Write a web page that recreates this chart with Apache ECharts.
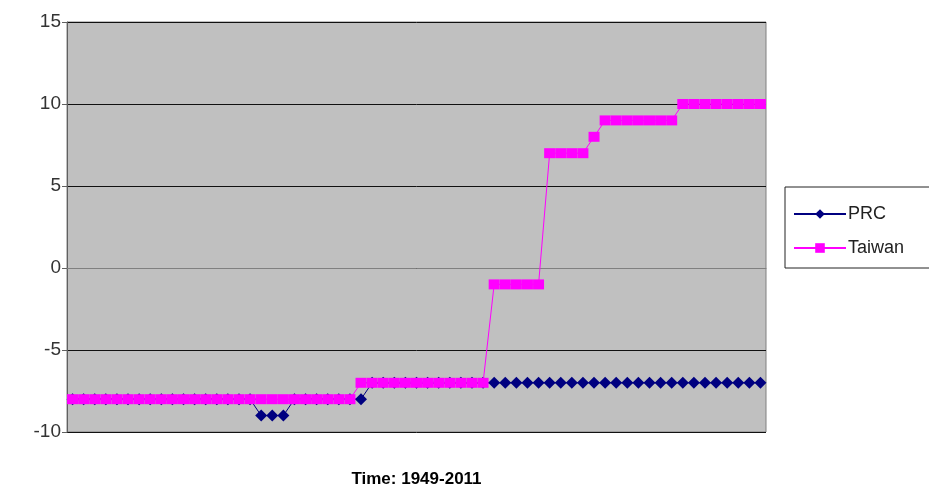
<!DOCTYPE html>
<html>
<head>
<meta charset="utf-8">
<script src="https://cdn.jsdelivr.net/npm/echarts@6/dist/echarts.min.js"></script>
<style>
  html, body { margin: 0; padding: 0; background: #ffffff; }
  #chart { width: 929px; height: 491px; }
</style>
</head>
<body>
<div id="chart"></div>
<script>
// Years 1949-2011, one category each
var years = [];
for (var y = 1949; y <= 2011; y++) years.push(String(y));

// Polity scores by year
var prc = [
  -8, -8, -8, -8, -8, -8, -8, -8, -8, -8,   // 1949-1958
  -8, -8, -8, -8, -8, -8, -8, -9, -9, -9,   // 1959-1968
  -8, -8, -8, -8, -8, -8, -8, -7, -7, -7,   // 1969-1978
  -7, -7, -7, -7, -7, -7, -7, -7, -7, -7,   // 1979-1988
  -7, -7, -7, -7, -7, -7, -7, -7, -7, -7,   // 1989-1998
  -7, -7, -7, -7, -7, -7, -7, -7, -7, -7,   // 1999-2008
  -7, -7, -7                                // 2009-2011
];
var taiwan = [
  -8, -8, -8, -8, -8, -8, -8, -8, -8, -8,   // 1949-1958
  -8, -8, -8, -8, -8, -8, -8, -8, -8, -8,   // 1959-1968
  -8, -8, -8, -8, -8, -8, -7, -7, -7, -7,   // 1969-1978
  -7, -7, -7, -7, -7, -7, -7, -7, -1, -1,   // 1979-1988
  -1, -1, -1,  7,  7,  7,  7,  8,  9,  9,   // 1989-1998
   9,  9,  9,  9,  9, 10, 10, 10, 10, 10,   // 1999-2008
  10, 10, 10                                // 2009-2011
];

var yTicks = { min: -10, max: 15, step: 5 };

var chart = echarts.init(document.getElementById('chart'), null, { renderer: 'canvas' });
chart.setOption({
  animation: false,
  backgroundColor: '#ffffff',
  textStyle: { fontFamily: 'Liberation Sans, Arial, sans-serif' },
  grid: {
    left: 67, right: 163, top: 22, bottom: 59,
    containLabel: false,
    outerBoundsMode: 'none',
    show: true,
    backgroundColor: '#c0c0c0',
    borderColor: '#808080',
    borderWidth: 1
  },
  legend: {
    orient: 'vertical',
    left: 785, top: 187,
    padding: [18, 30, 11, 8],
    borderColor: '#222222',
    borderWidth: 1,
    backgroundColor: '#ffffff',
    itemWidth: 52,
    itemHeight: 12,
    itemGap: 16,
    textStyle: { fontSize: 18, color: '#222222', padding: [0, 0, 0, -3] },
    data: ['PRC', 'Taiwan']
  },
  xAxis: {
    type: 'category',
    data: years,
    boundaryGap: true,
    name: 'Time: 1949-2011',
    nameLocation: 'middle',
    nameGap: 39,
    nameTextStyle: { fontSize: 17, fontWeight: 'bold', color: '#000000' },
    axisLine: { show: true, lineStyle: { color: '#808080', width: 1 } },
    axisTick: { show: false },
    axisLabel: { show: false },
    splitLine: { show: false }
  },
  yAxis: {
    type: 'value',
    min: yTicks.min,
    max: yTicks.max,
    interval: yTicks.step,
    axisLine: { show: true, lineStyle: { color: '#606060', width: 1 } },
    axisTick: { show: true, length: 5, lineStyle: { color: '#606060' } },
    axisLabel: { fontSize: 19, color: '#333333', margin: 6 },
    splitLine: { show: true, lineStyle: { color: '#111111', width: 1 } }
  },
  series: [
    {
      name: 'PRC',
      type: 'line',
      data: prc,
      showAllSymbol: true,
      symbol: 'diamond',
      symbolSize: 12,
      lineStyle: { color: '#000080', width: 1 },
      itemStyle: { color: '#000080' },
      z: 2
    },
    {
      name: 'Taiwan',
      type: 'line',
      data: taiwan,
      showAllSymbol: true,
      symbol: 'rect',
      symbolSize: [11, 10],
      lineStyle: { color: '#ff00ff', width: 1 },
      itemStyle: { color: '#ff00ff' },
      z: 3
    }
  ]
});
</script>
</body>
</html>
